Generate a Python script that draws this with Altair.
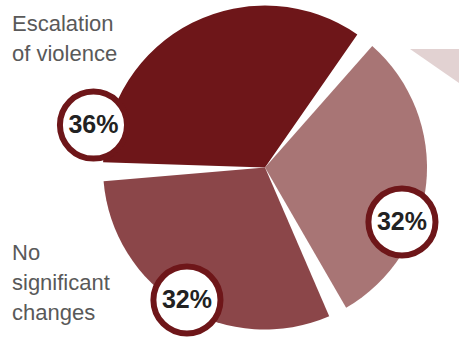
import math
import altair as alt
import pandas as pd

# ---- data ----
categories = ["Escalation of violence", "Other", "No significant changes"]
shares = [36, 32, 32]
pct_labels = ["36%", "32%", "32%"]
side_labels = ["Escalation\nof violence", "No\nsignificant\nchanges"]

# ---- layout / style ----
W, H = 459, 344
CX, CY, R = 265, 167.5, 162
START = math.radians(-91.5)
COLORS = ["#6e1619", "#a87575", "#8b4649"]
RING = "#6e1619"
label_angle = [-76.1, 111.7, 210.5]   # degrees, clockwise from top
label_dist = [176.7, 147.4, 153.8]
side_x = [12, 12]
side_y = [31, 260]

df = pd.DataFrame({
    "category": categories,
    "share": shares,
    "pct": pct_labels,
    "order": [0, 1, 2],
    "la": label_angle,
    "ld": label_dist,
})
side_df = pd.DataFrame({"txt": side_labels, "sx": side_x, "sy": side_y})
frag_df = pd.DataFrame({"k": ["fragment"]})

pie = alt.Chart(df).mark_arc(outerRadius=R, padAngle=0.117).encode(
    theta=alt.Theta("share:Q", stack=True,
                    scale=alt.Scale(range=[START, START + 2 * math.pi])),
    color=alt.Color("category:N", scale=alt.Scale(domain=categories, range=COLORS), legend=None),
    order=alt.Order("order:Q"),
    x=alt.value(CX),
    y=alt.value(CY),
)

fragment = alt.Chart(frag_df).mark_arc(outerRadius=140, color="#e2d2d2").encode(
    theta=alt.value(math.pi / 2),
    theta2=alt.value(math.radians(124.8)),
    x=alt.value(410),
    y=alt.value(49),
)

pos = alt.Chart(df).transform_calculate(
    px=f"{CX} + datum.ld * sin(datum.la * PI / 180)",
    py=f"{CY} - datum.ld * cos(datum.la * PI / 180)",
)

rings = pos.mark_circle(size=4500, fill="white", stroke=RING, strokeWidth=6, opacity=1).encode(
    x=alt.X("px:Q", scale=None, axis=None),
    y=alt.Y("py:Q", scale=None, axis=None),
)

pct = pos.mark_text(fontSize=25, fontWeight="bold", color="#222222",
                    font="Liberation Sans", align="center", baseline="middle").encode(
    x=alt.X("px:Q", scale=None, axis=None),
    y=alt.Y("py:Q", scale=None, axis=None),
    text="pct:N",
)

side = alt.Chart(side_df).mark_text(fontSize=22, color="#595959", font="Liberation Sans",
                                    align="left", baseline="alphabetic",
                                    lineBreak="\n", lineHeight=30).encode(
    x=alt.X("sx:Q", scale=None, axis=None),
    y=alt.Y("sy:Q", scale=None, axis=None),
    text="txt:N",
)

chart = alt.layer(fragment, pie, rings, pct, side).properties(
    width=W, height=H, padding=0, autosize=alt.AutoSizeParams(type="none")
).configure_view(stroke=None)

chart.save("out.html", embed_options={"renderer": "svg", "actions": False})
